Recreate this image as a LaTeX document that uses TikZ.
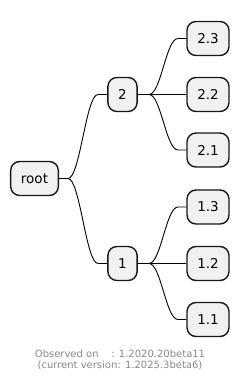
\documentclass[tikz,border=0pt]{standalone}
\usepackage{fontspec}
\setmainfont{DejaVu Sans}
\definecolor{nodefill}{HTML}{F1F1F1}
\definecolor{nodeline}{HTML}{181818}
\definecolor{footgray}{HTML}{888888}
\begin{document}
\begin{tikzpicture}[x=1pt,y=-1pt,
  mmbox/.style={draw=nodeline,fill=nodefill,line width=1.4pt,rounded corners=9pt,
    minimum height=34pt,inner xsep=10.3pt,inner ysep=0pt,
    font=\fontsize{13.5}{16}\selectfont},
  link/.style={draw=black,line width=0.9pt},
  foot/.style={text=footgray,font=\fontsize{10}{12}\selectfont,inner sep=0pt}]
\useasboundingbox (0,0) rectangle (240,383);
\node[mmbox] (root) at (34.5,178.5) {root};
\node[mmbox] (n2) at (122.5,94.5) {2};
\node[mmbox] (n1) at (122.5,263.5) {1};
\node[mmbox] (n23) at (208,38.5) {2.3};
\node[mmbox] (n22) at (208,94.5) {2.2};
\node[mmbox] (n21) at (208,150) {2.1};
\node[mmbox] (n13) at (208,207) {1.3};
\node[mmbox] (n12) at (208,263.5) {1.2};
\node[mmbox] (n11) at (208,319.5) {1.1};
% junctions
\coordinate (jr) at (68,178.5);
\coordinate (e2) at (98,94.5);
\coordinate (e1) at (98,263.5);
\coordinate (j2) at (149,94.5);
\coordinate (j1) at (149,263.5);
\coordinate (e23) at (178,38.5);
\coordinate (e21) at (178,150);
\coordinate (e13) at (178,207);
\coordinate (e11) at (178,319.5);
\draw[link] (root.east) -- (jr) .. controls +(12,0) and +(-12,0) .. (e2) -- (n2.west);
\draw[link] (jr) .. controls +(12,0) and +(-12,0) .. (e1) -- (n1.west);
\draw[link] (n2.east) -- (j2) .. controls +(12,0) and +(-12,0) .. (e23) -- (n23.west);
\draw[link] (j2) -- (n22.west);
\draw[link] (j2) .. controls +(12,0) and +(-12,0) .. (e21) -- (n21.west);
\draw[link] (n1.east) -- (j1) .. controls +(12,0) and +(-12,0) .. (e13) -- (n13.west);
\draw[link] (j1) -- (n12.west);
\draw[link] (j1) .. controls +(12,0) and +(-12,0) .. (e11) -- (n11.west);
\node[foot] (f1) at (120,354) {Observed on\ \ \ \ : 1.2020.20beta11};
\node[foot] (f2) at (120,365.5) {(current version: 1.2025.3beta6)};
\end{tikzpicture}
\end{document}
